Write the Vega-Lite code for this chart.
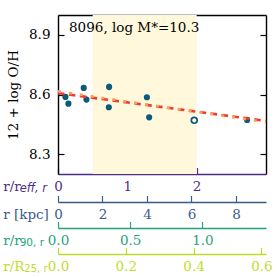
{
  "$schema": "https://vega.github.io/schema/vega-lite/v6.json",
  "width": 208,
  "height": 159,
  "autosize": "none",
  "padding": {"left": 58, "top": 15, "right": 11, "bottom": 103},
  "background": "white",
  "config": {
    "font": "DejaVu Serif",
    "view": {"stroke": null},
    "axis": {
      "labelFont": "DejaVu Serif",
      "titleFont": "DejaVu Serif",
      "labelFontSize": 13.5,
      "titleFontSize": 13.5,
      "titleFontWeight": "normal",
      "grid": false,
      "zindex": 1,
      "labelFlush": false,
      "labelOverlap": false,
      "labelBound": false
    }
  },
  "datasets": {
    "pts": [
      {"r": 0.107, "oh": 8.588, "lo": 8.576, "hi": 8.600, "kind": "filled"},
      {"r": 0.150, "oh": 8.554, "lo": 8.544, "hi": 8.564, "kind": "filled"},
      {"r": 0.371, "oh": 8.633, "lo": 8.618, "hi": 8.648, "kind": "filled"},
      {"r": 0.410, "oh": 8.575, "lo": 8.560, "hi": 8.590, "kind": "filled"},
      {"r": 0.737, "oh": 8.638, "lo": 8.622, "hi": 8.654, "kind": "filled"},
      {"r": 0.733, "oh": 8.536, "lo": 8.526, "hi": 8.546, "kind": "filled"},
      {"r": 1.282, "oh": 8.586, "lo": 8.576, "hi": 8.596, "kind": "filled"},
      {"r": 1.315, "oh": 8.485, "lo": 8.475, "hi": 8.495, "kind": "filled"},
      {"r": 1.965, "oh": 8.470, "lo": 8.470, "hi": 8.470, "kind": "open"},
      {"r": 2.727, "oh": 8.472, "lo": 8.458, "hi": 8.486, "kind": "filled"}
    ],
    "fit": [
      {"r": 0, "oh": 8.607, "series": "red"},
      {"r": 3, "oh": 8.467, "series": "red"},
      {"r": 0, "oh": 8.616, "series": "orange"},
      {"r": 3, "oh": 8.461, "series": "orange"}
    ],
    "band": [{"start": 0.5, "end": 2.0}]
  },
  "layer": [
    {
      "layer": [
        {
          "data": {"name": "band"},
          "mark": {"type": "rect", "color": "#fff8dd"},
          "encoding": {
            "x": {"field": "start", "type": "quantitative", "scale": {"domain": [0, 3], "nice": false, "zero": false},
              "axis": {"orient": "bottom", "values": [0, 1, 2], "format": "d", "domainColor": "#4f2f86", "domainWidth": 1.4, "tickColor": "#4f2f86", "tickSize": -6.5, "tickWidth": 1.2, "labelColor": "#4f2f86", "labelPadding": 12, "title": "r/r", "titleColor": "#4f2f86", "titleX": -55.3, "titleY": 16, "titleAlign": "left", "titleBaseline": "alphabetic"}},
            "x2": {"field": "end"}
          }
        },
        {
          "data": {"name": "pts"},
          "mark": {"type": "rule", "color": "#0a5b7c", "strokeWidth": 1.5},
          "encoding": {
            "x": {"field": "r", "type": "quantitative", "scale": {"domain": [0, 3], "nice": false, "zero": false},
              "axis": {"orient": "top", "labels": false, "ticks": false, "domainColor": "black", "domainWidth": 1.4, "title": null}},
            "y": {"field": "lo", "type": "quantitative", "scale": {"domain": [8.2, 9.0], "nice": false, "zero": false}, "axis": null},
            "y2": {"field": "hi"}
          }
        },
        {
          "data": {"name": "pts"},
          "transform": [{"filter": "datum.kind == 'filled'"}],
          "mark": {"type": "circle", "color": "#0a5b7c", "opacity": 1, "size": 38},
          "encoding": {
            "x": {"field": "r", "type": "quantitative", "scale": {"domain": [0, 3], "nice": false, "zero": false}, "axis": null},
            "y": {"field": "oh", "type": "quantitative", "scale": {"domain": [8.2, 9.0], "nice": false, "zero": false},
              "axis": {"orient": "left", "values": [8.3, 8.6, 8.9], "format": ".1f", "domainColor": "black", "domainWidth": 1.4, "tickColor": "black", "tickSize": -6, "tickWidth": 1.2, "labelColor": "black", "labelPadding": 14, "title": "12 + log O/H", "titleColor": "black", "titleX": -41, "titleY": 79.5, "titleAngle": -90, "titleAlign": "center", "titleBaseline": "alphabetic"}}
          }
        },
        {
          "data": {"name": "pts"},
          "transform": [{"filter": "datum.kind == 'open'"}],
          "mark": {"type": "point", "shape": "circle", "filled": false, "stroke": "#0a5b7c", "strokeWidth": 1.7, "opacity": 1, "size": 34},
          "encoding": {
            "x": {"field": "r", "type": "quantitative", "scale": {"domain": [0, 3], "nice": false, "zero": false}, "axis": null},
            "y": {"field": "oh", "type": "quantitative", "scale": {"domain": [8.2, 9.0], "nice": false, "zero": false}, "axis": null}
          }
        },
        {
          "data": {"name": "fit"},
          "transform": [{"filter": "datum.series == 'red'"}],
          "mark": {"type": "line", "color": "#ee3b2c", "strokeWidth": 2.6, "strokeDash": [6.5, 4.5]},
          "encoding": {
            "x": {"field": "r", "type": "quantitative", "scale": {"domain": [0, 3], "nice": false, "zero": false}, "axis": null},
            "y": {"field": "oh", "type": "quantitative", "scale": {"domain": [8.2, 9.0], "nice": false, "zero": false},
              "axis": {"orient": "right", "values": [8.3, 8.6, 8.9], "labels": false, "domainColor": "black", "domainWidth": 1.4, "tickColor": "black", "tickSize": -6, "tickWidth": 1.2, "title": null}}
          }
        },
        {
          "data": {"name": "fit"},
          "transform": [{"filter": "datum.series == 'orange'"}],
          "mark": {"type": "line", "color": "#f6a45c", "strokeWidth": 2.6, "strokeDash": [3, 8]},
          "encoding": {
            "x": {"field": "r", "type": "quantitative", "scale": {"domain": [0, 3], "nice": false, "zero": false}, "axis": null},
            "y": {"field": "oh", "type": "quantitative", "scale": {"domain": [8.2, 9.0], "nice": false, "zero": false}, "axis": null}
          }
        },
        {
          "data": {"name": "band"},
          "mark": {"type": "text", "text": "8096, log M*=10.3", "align": "left", "baseline": "alphabetic", "font": "DejaVu Serif", "fontSize": 13.5, "color": "black"},
          "encoding": {
            "x": {"datum": 0.159, "type": "quantitative", "scale": {"domain": [0, 3], "nice": false, "zero": false}, "axis": null},
            "y": {"datum": 8.916, "type": "quantitative", "scale": {"domain": [8.2, 9.0], "nice": false, "zero": false}, "axis": null}
          }
        },
        {
          "data": {"name": "band"},
          "mark": {"type": "text", "text": "eff, r", "align": "left", "baseline": "alphabetic", "font": "DejaVu Sans", "fontStyle": "italic", "fontSize": 11.5, "color": "#4f2f86"},
          "encoding": {
            "x": {"datum": -0.553, "type": "quantitative", "scale": {"domain": [0, 3], "nice": false, "zero": false}, "axis": null},
            "y": {"datum": 8.109, "type": "quantitative", "scale": {"domain": [8.2, 9.0], "nice": false, "zero": false}, "axis": null}
          }
        },
        {
          "data": {"name": "band"},
          "mark": {"type": "text", "text": "90, r", "align": "left", "baseline": "alphabetic", "font": "DejaVu Sans", "fontSize": 10.5, "color": "#26a37e"},
          "encoding": {
            "x": {"datum": -0.553, "type": "quantitative", "scale": {"domain": [0, 3], "nice": false, "zero": false}, "axis": null},
            "y": {"datum": 7.838, "type": "quantitative", "scale": {"domain": [8.2, 9.0], "nice": false, "zero": false}, "axis": null}
          }
        },
        {
          "data": {"name": "band"},
          "mark": {"type": "text", "text": "25, r", "align": "left", "baseline": "alphabetic", "font": "DejaVu Sans", "fontSize": 10, "color": "#bfdc2d"},
          "encoding": {
            "x": {"datum": -0.485, "type": "quantitative", "scale": {"domain": [0, 3], "nice": false, "zero": false}, "axis": null},
            "y": {"datum": 7.707, "type": "quantitative", "scale": {"domain": [8.2, 9.0], "nice": false, "zero": false}, "axis": null}
          }
        }
      ],
      "resolve": {"axis": {"x": "independent", "y": "independent"}}
    },
    {
      "data": {"name": "band"},
      "mark": {"type": "point", "opacity": 0},
      "encoding": {
        "x": {"datum": 0, "type": "quantitative", "scale": {"domain": [0, 9.35], "nice": false, "zero": false},
          "axis": {"orient": "bottom", "offset": 28, "values": [0, 2, 4, 6, 8], "format": "d", "domainColor": "#3b5a8c", "domainWidth": 1.4, "tickColor": "#3b5a8c", "tickSize": -6.5, "tickWidth": 1.2, "labelColor": "#3b5a8c", "labelPadding": 12, "title": "r [kpc]", "titleColor": "#3b5a8c", "titleX": -55.3, "titleY": 16, "titleAlign": "left", "titleBaseline": "alphabetic"}}
      }
    },
    {
      "data": {"name": "band"},
      "mark": {"type": "point", "opacity": 0},
      "encoding": {
        "x": {"datum": 0, "type": "quantitative", "scale": {"domain": [0, 1.44], "nice": false, "zero": false},
          "axis": {"orient": "bottom", "offset": 54, "values": [0, 0.5, 1.0], "format": ".1f", "domainColor": "#26a37e", "domainWidth": 1.4, "tickColor": "#26a37e", "tickSize": -6.5, "tickWidth": 1.2, "labelColor": "#26a37e", "labelPadding": 12, "title": "r/r", "titleColor": "#26a37e", "titleX": -55.3, "titleY": 16, "titleAlign": "left", "titleBaseline": "alphabetic"}}
      }
    },
    {
      "data": {"name": "band"},
      "mark": {"type": "point", "opacity": 0},
      "encoding": {
        "x": {"datum": 0, "type": "quantitative", "scale": {"domain": [0, 0.6136], "nice": false, "zero": false},
          "axis": {"orient": "bottom", "offset": 80, "values": [0, 0.2, 0.4, 0.6], "format": ".1f", "domainColor": "#bfdc2d", "domainWidth": 1.4, "tickColor": "#bfdc2d", "tickSize": -6.5, "tickWidth": 1.2, "labelColor": "#bfdc2d", "labelPadding": 12, "title": "r/R", "titleColor": "#bfdc2d", "titleX": -55.3, "titleY": 16, "titleAlign": "left", "titleBaseline": "alphabetic"}}
      }
    }
  ],
  "resolve": {"scale": {"x": "independent"}, "axis": {"x": "independent", "y": "independent"}}
}
